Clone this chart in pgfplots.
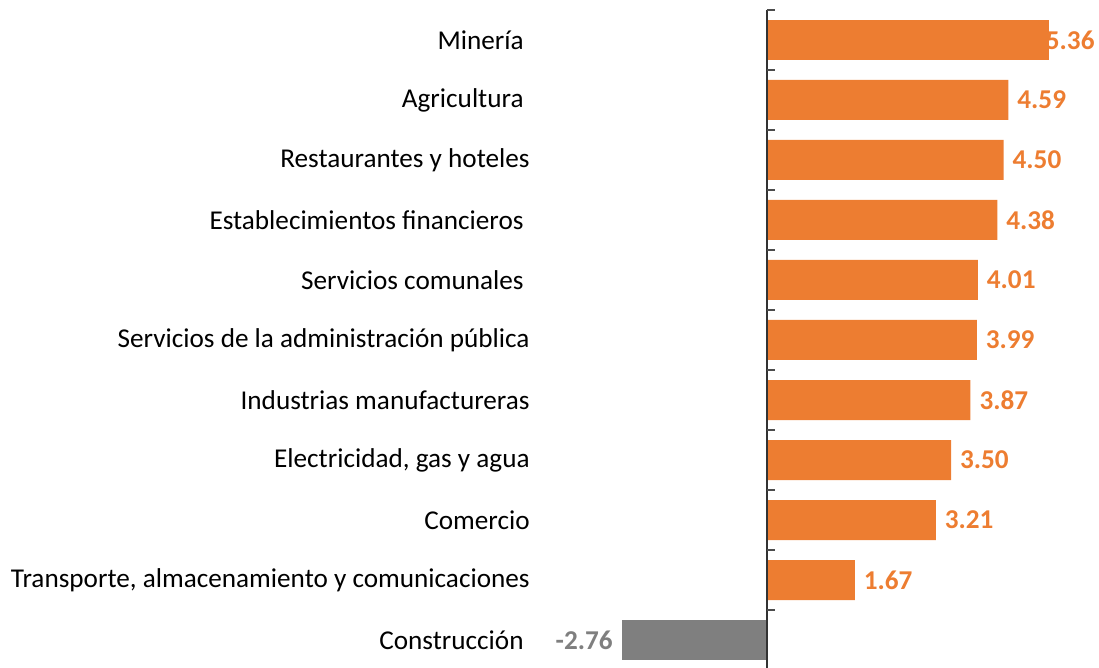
\documentclass[border=0pt]{standalone}
\usepackage{pgfplots}
\pgfplotsset{compat=1.18}
\usepackage{fontspec}
\setmainfont{Carlito}
\definecolor{barorange}{HTML}{ED7D31}
\definecolor{bargray}{HTML}{7F7F7F}
\begin{document}
\begin{tikzpicture}
\path[use as bounding box] (0,0) rectangle (549.5pt,334pt);
\begin{axis}[
  at={(273pt,329pt)}, anchor=north west,
  scale only axis,
  width=276.15pt, height=330pt,
  xmin=-4.2, xmax=6.3,
  ymin=-0.5, ymax=10.5,
  y dir=reverse,
  hide x axis,
  axis y line*=left,
  y axis line style={draw=none},
  major tick length=0pt,
  clip=false,
  ytick={0,...,10},
  yticklabels={Minería\hspace*{3pt},Agricultura\hspace*{3pt},Restaurantes y hoteles,Establecimientos financieros\hspace*{3pt},Servicios comunales\hspace*{3pt},Servicios de la administración pública,Industrias manufactureras,{Electricidad, gas y agua},Comercio,{Transporte, almacenamiento y comunicaciones},Construcción\hspace*{3pt}},
  yticklabel style={anchor=east, inner sep=0pt, xshift=-8pt, font=\fontsize{13.6}{16}\selectfont},
  xbar, bar width=20pt, bar shift=0pt,
  point meta=x,
  nodes near coords={\pgfmathprintnumber[fixed,fixed zerofill,precision=2,assume math mode=true]{\pgfplotspointmeta}},
  nodes near coords style={font=\fontsize{13.6}{16}\selectfont\bfseries},
]
\addplot[fill=barorange, draw=none, nodes near coords style={text=barorange, anchor=west, xshift=1pt}]
  coordinates {(4.59,1) (4.50,2) (4.38,3) (4.01,4) (3.99,5) (3.87,6) (3.50,7) (3.21,8) (1.67,9)};
\addplot[fill=barorange, draw=none, nodes near coords style={text=barorange, anchor=west, xshift=-5pt}]
  coordinates {(5.36,0)};
\addplot[fill=bargray, draw=none, nodes near coords style={text=bargray, anchor=east, xshift=-1pt}]
  coordinates {(-2.76,10)};
\draw[black!80, line width=0.8pt] (axis cs:0,-0.5) -- (axis cs:0,10.5);
\pgfplotsinvokeforeach{-0.5,0.5,1.5,2.5,3.5,4.5,5.5,6.5,7.5,8.5,9.5,10.5}{
  \draw[black!70, line width=0.8pt] (axis cs:0,#1) -- ([xshift=4pt]axis cs:0,#1);
}
\end{axis}
\end{tikzpicture}
\end{document}
